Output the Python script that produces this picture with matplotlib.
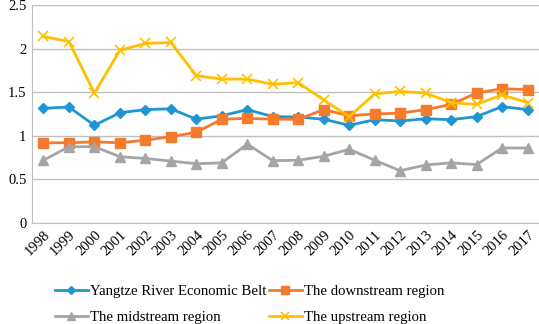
import numpy as np
import matplotlib
matplotlib.use("Agg")
import matplotlib.pyplot as plt

## Chart data
years = [str(y) for y in range(1998, 2018)]
belt = [1.315, 1.33, 1.12, 1.265, 1.30, 1.31, 1.19, 1.23, 1.30, 1.22,
        1.215, 1.19, 1.12, 1.185, 1.17, 1.195, 1.185, 1.22, 1.335, 1.30]
downstream = [0.92, 0.92, 0.93, 0.92, 0.95, 0.99, 1.04, 1.19, 1.20, 1.19,
              1.19, 1.30, 1.23, 1.25, 1.26, 1.30, 1.36, 1.49, 1.54, 1.53]
midstream = [0.72, 0.875, 0.875, 0.76, 0.74, 0.71, 0.68, 0.69, 0.905, 0.715,
             0.72, 0.765, 0.845, 0.72, 0.60, 0.665, 0.69, 0.67, 0.86, 0.86]
upstream = [2.14, 2.08, 1.49, 1.98, 2.06, 2.07, 1.69, 1.65, 1.65, 1.59,
            1.61, 1.41, 1.22, 1.48, 1.51, 1.49, 1.38, 1.36, 1.47, 1.38]
labels = ['Yangtze River Economic Belt', 'The downstream region',
          'The midstream region', 'The upstream region']

plt.rcParams['font.family'] = ['Liberation Serif', 'DejaVu Serif']

fig = plt.figure(figsize=(5.39, 3.24), dpi=100)
ax = fig.add_axes([32 / 539, 1 - 223 / 324, 1 - 32 / 539, 218 / 324])

x = np.arange(len(years))
l1, = ax.plot(x, belt, color='#1F96D3', lw=2, marker='D', ms=5.5, label=labels[0])
l2, = ax.plot(x, downstream, color='#F57B2C', lw=2, marker='s', ms=7, label=labels[1])
l3, = ax.plot(x, midstream, color='#A5A5A5', lw=2, marker='^', ms=6.5, label=labels[2])
l4, = ax.plot(x, upstream, color='#FFC000', lw=2, marker='x', ms=7, mew=1.2, label=labels[3])

## Axes styling in the look of a spreadsheet chart
ax.set_xlim(-0.45, len(years) - 0.55)
ax.set_ylim(0, 2.5)
ax.set_yticks([0, 0.5, 1, 1.5, 2, 2.5])
ax.set_yticklabels(['0', '0.5', '1', '1.5', '2', '2.5'])
ax.set_xticks(x)
ax.set_xticklabels(years, rotation=45, ha='right', rotation_mode='anchor')
ax.tick_params(axis='both', length=0, labelsize=10.5, pad=4)
ax.grid(axis='y', color='#BFBFBF', lw=1)
ax.set_axisbelow(True)
for side in ['top', 'right']:
    ax.spines[side].set_visible(False)
ax.spines['left'].set_color('#BFBFBF')
ax.spines['bottom'].set_color('#BFBFBF')

## Legend filled row by row, like the original
handles = [l1, l3, l2, l4]
fig.legend(handles, [h.get_label() for h in handles],
           loc='lower left', bbox_to_anchor=(0.078, -0.04), ncol=2, frameon=False,
           fontsize=10.6, handlelength=2.2, handletextpad=0.15, columnspacing=0.2,
           labelspacing=0.85, markerscale=0.8)

fig.savefig('out.png', dpi=100)
